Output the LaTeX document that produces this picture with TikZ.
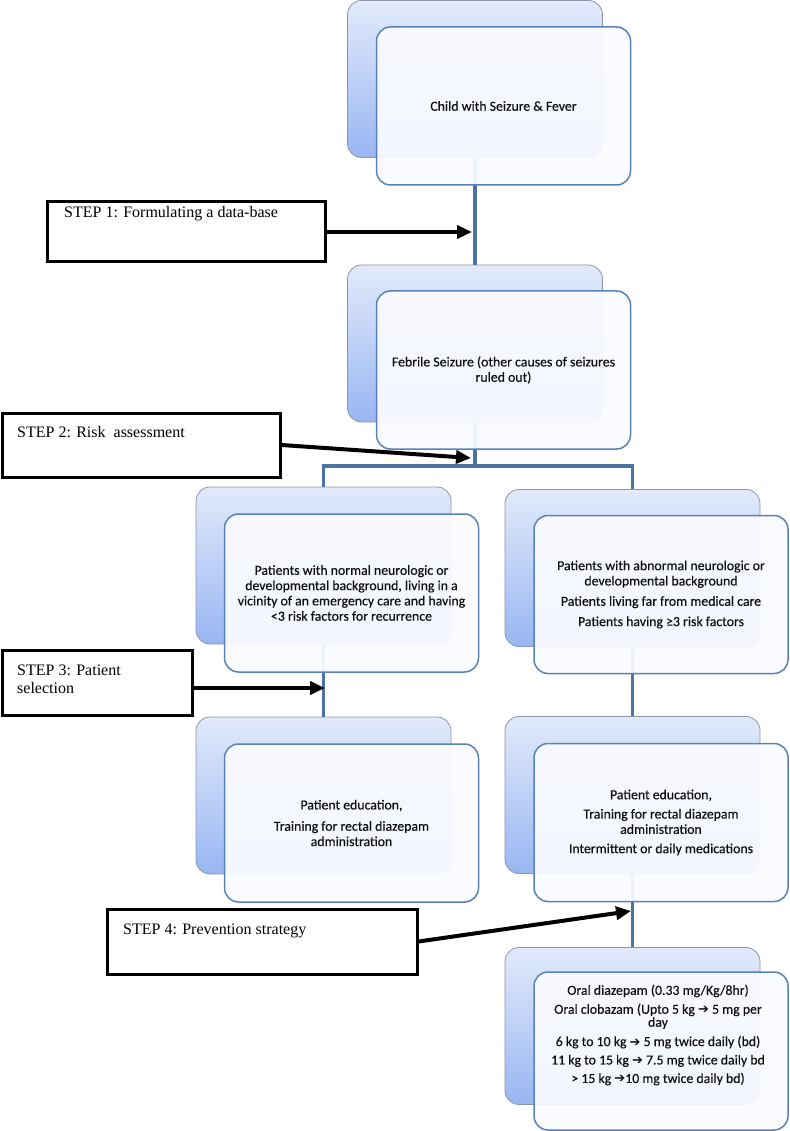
\documentclass[tikz,border=0pt]{standalone}
\usepackage{fontspec}
\setmainfont{Liberation Serif}
\newfontfamily\calfont[FakeBold=0.35]{Carlito}
\newfontfamily\dvfont{DejaVu Sans}
\usetikzlibrary{arrows.meta,calc}
\definecolor{conn}{RGB}{76,114,166}
\definecolor{frontedge}{RGB}{88,130,185}
\definecolor{backedge}{RGB}{140,150,168}
\definecolor{backtop}{RGB}{226,234,251}
\definecolor{backbot}{RGB}{152,182,242}
\definecolor{frontfill}{RGB}{250,251,255}
\definecolor{txt}{RGB}{15,15,15}
\newcommand{\rarr}{{\dvfont\fontsize{13}{11}\selectfont ➔}}
\begin{document}
\begin{tikzpicture}[x=1pt,y=-1pt,
  backbox/.style={rectangle, rounded corners=14pt, draw=backedge, line width=0.8pt,
    top color=backtop, bottom color=backbot, minimum width=255pt, minimum height=157pt, inner sep=0pt},
  frontbox/.style={rectangle, rounded corners=14pt, draw=frontedge, line width=1.5pt,
    fill=frontfill, fill opacity=0.93, text opacity=1, minimum width=254pt, minimum height=158pt,
    inner sep=0pt, align=center, text=txt, font=\calfont\fontsize{13.8}{15.3}\selectfont},
  boxtext/.style={inner sep=0pt, align=center, text=txt, font=\calfont\fontsize{13.8}{11.6}\selectfont},
  connector/.style={draw=conn, line width=3.4pt},
  stepbox/.style={rectangle, draw=black, line width=3pt, fill=white, inner sep=0pt},
  steptext/.style={inner sep=0pt, align=left, text=black, font=\fontsize{16}{18}\selectfont},
  steparrow/.style={-{Triangle[length=15pt,width=13pt]}, line width=4pt, draw=black}
]
\fill[white] (0,0) rectangle (789,1131);
\useasboundingbox (0,0) rectangle (789,1131);

% back boxes
\node[backbox] (b1) at (475,79) {};
\node[backbox] (b2) at (475,343.5) {};
\node[backbox] (b3) at (323.5,565.5) {};
\node[backbox] (b4) at (632.5,568) {};
\node[backbox] (b5) at (323.5,795.5) {};
\node[backbox] (b6) at (632.5,795) {};
\node[backbox] (b7) at (632.5,1026) {};

% connectors
\coordinate (j) at (475,466);
\draw[connector] (b1.south) -- (b2.north);
\draw[connector] (b2.south) -- (b2.south |- j) -| (b3.north);
\draw[connector] (b2.south |- j) -| (b4.north);
\draw[connector] (b3.south) -- (b5.north);
\draw[connector] (b4.south) -- (b6.north);
\draw[connector] (b6.south) -- (b7.north);

% front boxes
\node[frontbox] (f1) at (503.5,106) {Child with Seizure \& Fever};
\node[frontbox] (f2) at (503.5,370) {Febrile Seizure (other causes of seizures\\ruled out)};
\node[frontbox] (f3) at (351.5,593) {Patients with normal neurologic or\\developmental background, living in a\\vicinity of an emergency care and having\\<3 risk factors for recurrence};
\node[frontbox] (f4) at (661,594.5) {Patients with abnormal neurologic or\\developmental background\\[5pt]Patients living far from medical care\\[5pt]Patients having ≥3 risk factors};
\node[frontbox] (f5) at (351.5,823) {Patient education,\\[6pt]Training for rectal diazepam\\administration};
\node[frontbox] (f6) at (661,822.5) {Patient education,\\[4pt]Training for rectal diazepam\\administration\\[4pt]Intermittent or daily medications};
\node[frontbox] (f7) at (661,1051) {};
\node[boxtext] (t7) at (658,1035) {Oral diazepam (0.33 mg/Kg/8hr)\\[5.5pt]Oral clobazam (Upto 5 kg \rarr{} 5 mg per\\day\\[6pt]6 kg to 10 kg \rarr{} 5 mg twice daily (bd)\\[5.5pt]11 kg to 15 kg \rarr{} 7.5 mg twice daily bd\\[5pt]> 15 kg \rarr10 mg twice daily bd)};

% step boxes
\node[stepbox, minimum width=278pt, minimum height=60pt] (s1) at (186,232) {};
\node[steptext, anchor=base west] (s1t) at (64,218) {STEP 1: Formulating a data-base};
\node[stepbox, minimum width=278pt, minimum height=64pt] (s2) at (141,445) {};
\node[steptext, anchor=base west] (s2t) at (17,437) {STEP 2: Risk\ \ assessment};
\node[stepbox, minimum width=190pt, minimum height=65pt] (s3) at (97,682.5) {};
\node[steptext, anchor=north west] (s3t) at (17,664.4) {STEP 3: Patient\\selection};
\node[stepbox, minimum width=310pt, minimum height=65pt] (s4) at (262,941.5) {};
\node[steptext, anchor=base west] (s4t) at (123,934) {STEP 4: Prevention strategy};

% step arrows
\coordinate (c1) at (472,232);
\coordinate (c2) at (471,458);
\coordinate (c3) at (325,688);
\coordinate (c4) at (631,911);
\draw[steparrow] (s1.east) -- (c1);
\draw[steparrow] (s2.east) -- (c2);
\draw[steparrow] (s3.east |- c3) -- (c3);
\draw[steparrow] (s4.east) -- (c4);
\end{tikzpicture}
\end{document}
